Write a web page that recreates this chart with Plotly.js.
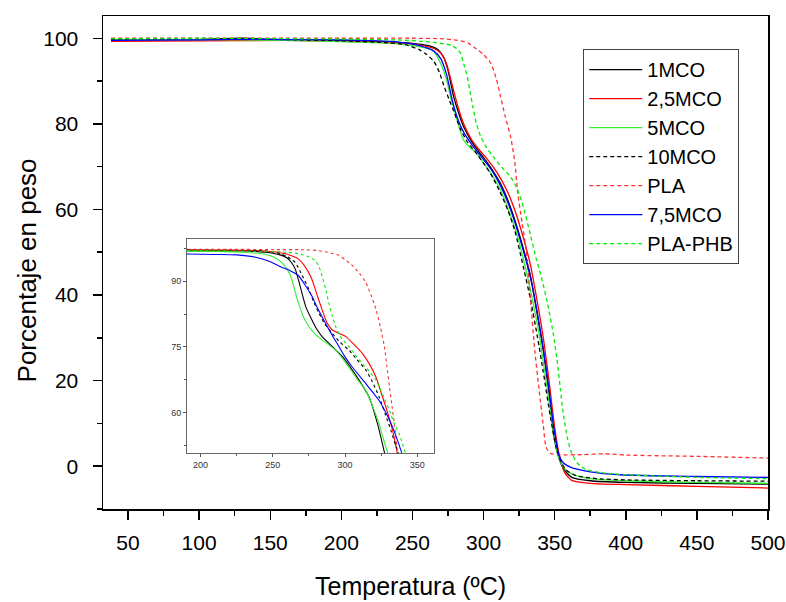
<!DOCTYPE html>
<html>
<head>
<meta charset="utf-8">
<script src="https://cdn.plot.ly/plotly-3.0.1.min.js"></script>
<style>html,body{margin:0;padding:0;background:#fff;}#chart{width:786px;height:602px;}</style>
</head>
<body>
<div id="chart"></div>
<script>
// ---------- Main plot data (Temperatura ºC, Porcentaje en peso) ----------
const seriesNames = ["1MCO", "2,5MCO", "5MCO", "10MCO", "PLA", "7,5MCO", "PLA-PHB"];

const t_1MCO = [38,70,100,130,160,200,230,250,262,268,272,275,279,283,286,291,296,302,307,312,317,322,327,333,338,342,346,349,352,356,362,375,400,450,500];
const w_1MCO = [99.6,99.6,99.7,100.0,99.7,99.5,99.2,98.8,98.2,97.3,95.5,92.5,86.3,82,79.3,76.2,73.8,71.2,68.8,66.0,62.2,57.5,52,44.5,35,27,17,8,3,-0.5,-2.6,-3.4,-3.8,-4.0,-4.2];

const t_25MCO = [38,100,160,200,240,255,265,270,274,278,282,286,291,296,302,307,312,317,322,327,333,338,342,346,350,353,357,362,375,400,450,500];
const w_25MCO = [99.3,99.4,99.5,99.3,98.9,98.4,97.6,96.5,94,89,84,80,76.6,74.3,72,69.8,67.2,64,59.8,54.5,47,38,30,20,9,3,-1.5,-3.3,-4.0,-4.3,-4.7,-5.1];

const t_5MCO = [38,100,160,200,230,250,258,264,270,274,277,280,283,286,291,295,300,305,312,319,324,329,334,339,343,347,350,353,356,362,375,400,450,500];
const w_5MCO = [99.6,99.7,99.5,99.2,98.9,98.3,97.8,97.3,94,90.2,86,82.5,79,76.2,74.3,73.2,70.8,68.5,64.5,58.5,53.5,47,39.5,31,22,13,6,2,-0.2,-1.8,-2.9,-3.4,-3.8,-4.0];

const t_10MCO = [38,100,160,200,230,245,255,260,265,269,272,276,279,284,289,294,300,305,311,317,322,328,333,338,342,347,351,354,358,365,380,400,450,500];
const w_10MCO = [99.8,99.9,99.7,99.4,99,98.5,97.3,96.2,94.6,92,89,85.5,83,78.6,75.6,73.5,70.8,68.3,64.5,59.9,55,46.5,39,30,22,11.5,4.5,1.4,-0.9,-2.2,-2.9,-3.2,-3.4,-3.5];

const t_PLA = [38,100,160,200,250,270,282,289,295,300,305,309,312,315,319,322,324,327,330,333,336,339,342,344,347,352,370,385,400,450,500];
const w_PLA = [100,100,100,100,100,99.9,99.5,98.9,97.5,96.2,94.2,90.5,86.3,82,77,71,64,57,50.5,39,27,18,9.5,4.4,3.0,2.7,2.7,2.9,2.6,2.3,1.9];

const t_75MCO = [38,100,130,160,200,240,255,265,270,274,278,282,286,291,296,302,307,312,317,322,327,333,338,342,346,349,352.8,356,361,375,396,450,500];
const w_75MCO = [99.5,99.6,99.8,99.7,99.6,99.1,98.3,97,95.2,91.5,85.5,81,78,75.5,73.3,70.8,68.5,65.5,61.7,57,51.5,44,35.5,27.5,18,10,2.8,0.8,-0.2,-1.3,-2.0,-2.4,-2.6];

const t_PLAPHB = [38,100,160,200,240,260,270,277,281,284,286.5,288.6,290.5,292.5,295,298,302,307,313,319,324,328,333,337,340,345,349,352,354,356,359,362,366,372,385,400,450,500];
const w_PLAPHB = [99.9,100,99.9,99.8,99.6,99.2,98.8,98.4,97.6,96.4,93.5,91,87.5,84,80,77,74.5,72.2,69.8,67.6,64.5,60.6,54,48.5,45,38,31,24,18,12.4,6.5,3,0.7,-0.8,-1.6,-2.0,-2.6,-2.9];

// ---------- Inset data ----------
const it_1MCO = [190.6,210,230,245,255,260,263,265.5,268,270.1,273,277,280.5,284,291.1,298.1,304,309.7,316.7,322.6,327.9];
const iw_1MCO = [97.1,97.0,96.9,96.6,96.0,95.3,94.2,92.8,90,87.4,84,81.2,79,77.4,75.1,72.8,70.2,67.4,63.5,57.3,50];

const it_25MCO = [190.6,220,245,258,263,267.7,272,277,280.5,284,287.5,291.1,295,300.4,306,312,317,321.4,325,328.3,333,336.6];
const iw_25MCO = [97.1,97.1,96.9,96.3,95.8,95.1,93.5,90.5,87,83.6,80.5,78.9,78.2,77.4,75.6,73.5,71,68.1,64.5,61.2,55.8,50];

const it_5MCO = [190.6,210,230,245,252,256.1,260,263.1,265.5,267.7,271,274.9,279,284,293.4,302.6,308,314.4,319,323.7,327,330.3];
const iw_5MCO = [96.8,96.8,96.6,96.1,95.3,94.3,92.7,90.5,87.5,85.1,82,79.7,78,76.6,74.3,70.4,67.8,65,61.5,57.3,53.5,50];

const it_10MCO = [190.6,220,245,255,260,265.5,270,274.9,278,281.8,286,291.1,296,302.6,308,314.4,319,323.7,328,331.9,335,337.7];
const iw_10MCO = [97.2,97.1,96.9,96.3,95.6,94.3,91.5,88.2,85.5,82.8,80.2,78.1,76.2,74.3,72.2,69.7,67,63.5,59.5,55.8,52.5,50];

const it_PLA = [190.6,220,250,270,281,288,295.7,300,305,310,314.4,318,321.4,324.5,327.2,329,330.8,332.5,334.2,336.6];
const iw_PLA = [97.3,97.3,97.2,97.2,97.0,96.6,95.9,94.9,93.6,91.8,89.7,86.8,83.6,79.5,75.1,70.5,65.8,61.5,57.3,50];

const it_75MCO = [190.6,210,225,237.4,247,256.1,262,267.7,272,277,281.5,286.3,291,295.7,300,305,314.4,323.7,329,333,337,340];
const iw_75MCO = [96.2,96.1,96.0,95.5,94.6,93.2,92.4,91.3,89.3,86.6,83.5,80.5,77.7,75.1,72.7,70.4,66.6,62.7,59.5,56.6,53,50];

const it_PLAPHB = [190.6,220,245,260,267.7,274,279.4,282,284,286.5,288.7,291,293.4,297,302.6,307,312,317,321.4,326,330.8,334,337.7,342.4];
const iw_PLAPHB = [97.0,96.9,96.8,96.6,96.3,95.7,94.7,93.3,91.3,88.3,85.1,82.3,79.7,77.2,75.1,73.2,71.2,69.3,67.4,64.2,60.4,57.5,55,50];

// ---------- Tick labels & titles ----------
const xTicks = [50,100,150,200,250,300,350,400,450,500];
const yTicks = [0,20,40,60,80,100];
const insetXTicks = [200,250,300,350];
const insetYTicks = [60,75,90];
const xTitle = 'Temperatura (ºC)';
const yTitle = 'Porcentaje en peso';

const mainT = [t_1MCO, t_25MCO, t_5MCO, t_10MCO, t_PLA, t_75MCO, t_PLAPHB];
const mainW = [w_1MCO, w_25MCO, w_5MCO, w_10MCO, w_PLA, w_75MCO, w_PLAPHB];
const insT = [it_1MCO, it_25MCO, it_5MCO, it_10MCO, it_PLA, it_75MCO, it_PLAPHB];
const insW = [iw_1MCO, iw_25MCO, iw_5MCO, iw_10MCO, iw_PLA, iw_75MCO, iw_PLAPHB];

const styles = [
  {color:'#000000', dash:'solid'},
  {color:'#ff0000', dash:'solid'},
  {color:'#33ee33', dash:'solid'},
  {color:'#000000', dash:'4px,3px'},
  {color:'#ff3333', dash:'4px,3px'},
  {color:'#0000ff', dash:'solid'},
  {color:'#00ee00', dash:'4px,3px'}
];
const insetDash = ['solid','solid','solid','dot','dot','solid','dot'];

const traces = [];
for (let i = 0; i < seriesNames.length; i++) {
  traces.push({
    x: mainT[i], y: mainW[i], name: seriesNames[i], type:'scatter', mode:'lines',
    line:{color:styles[i].color, dash:styles[i].dash, width:1.3, shape:'spline', smoothing:0.6},
    xaxis:'x', yaxis:'y'
  });
}
for (let i = 0; i < seriesNames.length; i++) {
  traces.push({
    x: insT[i], y: insW[i], name: seriesNames[i], type:'scatter', mode:'lines', showlegend:false,
    line:{color:styles[i].color, dash:insetDash[i], width:1.1, shape:'spline', smoothing:0.6},
    xaxis:'x2', yaxis:'y2'
  });
}

const FONT = 'Liberation Sans, Arial, sans-serif';
const layout = {
  width:786, height:602,
  margin:{l:103, r:18, t:16, b:93},
  paper_bgcolor:'#ffffff', plot_bgcolor:'#ffffff',
  font:{family:FONT, color:'#000'},
  showlegend:true,
  legend:{x:0.7222, y:0.933, xanchor:'left', yanchor:'top', bgcolor:'#ffffff',
    bordercolor:'#444', borderwidth:1, font:{size:20, family:FONT}, itemwidth:53,
    tracegroupgap:0},
  annotations:[
    {text:xTitle, xref:'paper', yref:'paper', x:0.462, y:-0.157, xanchor:'center', yanchor:'middle',
     showarrow:false, font:{size:25}},
    {text:yTitle, xref:'paper', yref:'paper', x:-0.1138, y:0.4845, xanchor:'center', yanchor:'middle',
     textangle:-90, showarrow:false, font:{size:26}}
  ],
  xaxis:{domain:[0,1], range:[32.4,500], tickvals:xTicks, ticktext:xTicks.map(String),
    ticks:'outside', ticklen:9, tickwidth:1.5, tickcolor:'#000', linecolor:'#000', linewidth:1.5,
    mirror:true, showgrid:false, zeroline:false, tickfont:{size:21}, ticklabelstandoff:5,
    minor:{dtick:25, tick0:0, ticks:'outside', ticklen:5, tickwidth:1.5, tickcolor:'#000'},
    automargin:false},
  yaxis:{domain:[0,1], range:[-10,105.2], tickvals:yTicks, ticktext:yTicks.map(String),
    ticks:'outside', ticklen:9, tickwidth:1.5, tickcolor:'#000', linecolor:'#000', linewidth:1.5,
    mirror:true, showgrid:false, zeroline:false, tickfont:{size:21}, ticklabelstandoff:10,
    minor:{dtick:10, tick0:0, ticks:'outside', ticklen:5, tickwidth:1.5, tickcolor:'#000'},
    automargin:false},
  xaxis2:{domain:[0.1263,0.4982], anchor:'y2', range:[190.6,361.8], tickvals:insetXTicks,
    ticktext:insetXTicks.map(String), ticks:'outside', ticklen:3, tickwidth:1, tickcolor:'#555',
    linecolor:'#666', linewidth:1, mirror:true, showgrid:false, zeroline:false,
    tickfont:{size:9, color:'#333'}, minor:{dtick:25, tick0:0, ticks:'outside', ticklen:2, tickcolor:'#555'}},
  yaxis2:{domain:[0.1131,0.5474], anchor:'x2', range:[50.7,99.6], tickvals:insetYTicks,
    ticktext:insetYTicks.map(String), ticks:'outside', ticklen:3, tickwidth:1, tickcolor:'#555',
    linecolor:'#666', linewidth:1, mirror:true, showgrid:false, zeroline:false,
    tickfont:{size:9, color:'#333'}, minor:{dtick:7.5, tick0:0, ticks:'outside', ticklen:2, tickcolor:'#555'}}
};

Plotly.newPlot('chart', traces, layout, {displayModeBar:false, staticPlot:true});
</script>
</body>
</html>
